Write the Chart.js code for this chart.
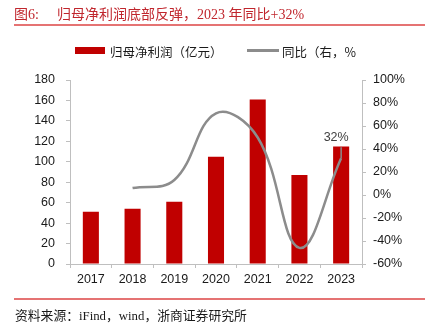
<!DOCTYPE html>
<html>
<head>
<meta charset="utf-8">
<script src="https://cdn.jsdelivr.net/npm/chart.js@4"></script>
<style>
  body { margin: 0; background: #fff; }
  #wrap { position: relative; width: 433px; height: 333px; overflow: hidden; }
  #c { position: absolute; left: 0; top: 0; }
  .t { position: absolute; white-space: nowrap; }
</style>
</head>
<body>
<div id="wrap">
  <canvas id="c" width="433" height="333"></canvas>
  <div class="t" style="left:14px;top:3px;font:14px 'Liberation Serif','Noto Sans CJK SC';color:#c0262d;">图6:</div>
  <div class="t" style="left:57px;top:3px;font:14px 'Liberation Serif','Noto Sans CJK SC';color:#c0262d;">归母净利润底部反弹，2023 年同比+32%</div>
  <div class="t" style="left:14px;top:24px;width:411px;height:2px;background:#e57373;"></div>
  <div class="t" style="left:75px;top:47px;width:30px;height:7px;background:#c00000;"></div>
  <div class="t" style="left:110px;top:42px;font:12.5px 'Noto Sans CJK SC';color:#1a1a1a;">归母净利润（亿元）</div>
  <div class="t" style="left:247px;top:49px;width:32px;height:3px;background:#8c8c8c;"></div>
  <div class="t" style="left:282px;top:42px;font:12.5px 'Noto Sans CJK SC';color:#1a1a1a;">同比（右，%</div>
  <div class="t" style="left:14px;top:298px;width:411px;height:2px;background:#e57373;"></div>
  <div class="t" style="left:15px;top:305px;font:12.8px 'Liberation Serif','Noto Sans CJK SC';color:#1a1a1a;">资料来源：iFind，wind，浙商证券研究所</div>
</div>
<script>
// data
const years = ['2017', '2018', '2019', '2020', '2021', '2022', '2023'];
const profit = [51, 54, 61, 105, 161, 87, 115];   // 亿元
const yoy = [null, 6, 13, 71, 50, -46, 32];        // %

const tickFont = { family: 'Liberation Sans', size: 12.5 };
const axisGray = '#bfbfbf';

// label "32%" above the last point with a short leader line
const lastLabel = {
  id: 'lastLabel',
  afterDatasetsDraw(chart) {
    const meta = chart.getDatasetMeta(1);
    const pt = meta.data[meta.data.length - 1];
    const ctx = chart.ctx;
    ctx.save();
    ctx.strokeStyle = '#8c8c8c';
    ctx.lineWidth = 1.5;
    ctx.beginPath();
    ctx.moveTo(pt.x, pt.y);
    ctx.lineTo(pt.x, pt.y - 11);
    ctx.stroke();
    ctx.fillStyle = '#404040';
    ctx.font = '12.5px Liberation Sans';
    ctx.textAlign = 'center';
    ctx.textBaseline = 'middle';
    ctx.fillText(yoy[yoy.length - 1] + '%', pt.x - 5, pt.y - 21);
    ctx.restore();
  }
};

new Chart(document.getElementById('c'), {
  data: {
    labels: years,
    datasets: [{
      type: 'bar',
      label: '归母净利润（亿元）',
      data: profit,
      backgroundColor: '#c00000',
      categoryPercentage: 1,
      barPercentage: 0.385,
      yAxisID: 'y',
      order: 1
    }, {
      type: 'line',
      label: '同比（右，%',
      data: yoy,
      borderColor: '#8c8c8c',
      borderWidth: 2.5,
      pointRadius: 0,
      tension: 0.4,
      yAxisID: 'y1',
      order: 0
    }]
  },
  options: {
    responsive: false,
    animation: false,
    layout: { padding: { top: 80, left: 0, right: 0, bottom: 0 } },
    plugins: { legend: { display: false }, tooltip: { enabled: false } },
    scales: {
      x: {
        offset: true,
        grid: { offset: true, drawOnChartArea: false, tickLength: 4, color: axisGray },
        border: { color: axisGray },
        ticks: { font: tickFont, color: '#1a1a1a', padding: 4 },
        afterFit(s) { s.height = 69; }
      },
      y: {
        position: 'left',
        min: 0, max: 180,
        ticks: { stepSize: 20, font: tickFont, color: '#1a1a1a', padding: 11 },
        grid: { drawOnChartArea: false, tickLength: 4, color: axisGray },
        border: { color: axisGray },
        afterFit(s) { s.width = 70; }
      },
      y1: {
        position: 'right',
        min: -60, max: 100,
        ticks: { stepSize: 20, font: tickFont, color: '#1a1a1a', padding: 7, callback: v => v + '%' },
        grid: { drawOnChartArea: false, tickLength: 4, color: axisGray },
        border: { color: axisGray },
        afterFit(s) { s.width = 71; }
      }
    }
  },
  plugins: [lastLabel]
});
</script>
</body>
</html>
